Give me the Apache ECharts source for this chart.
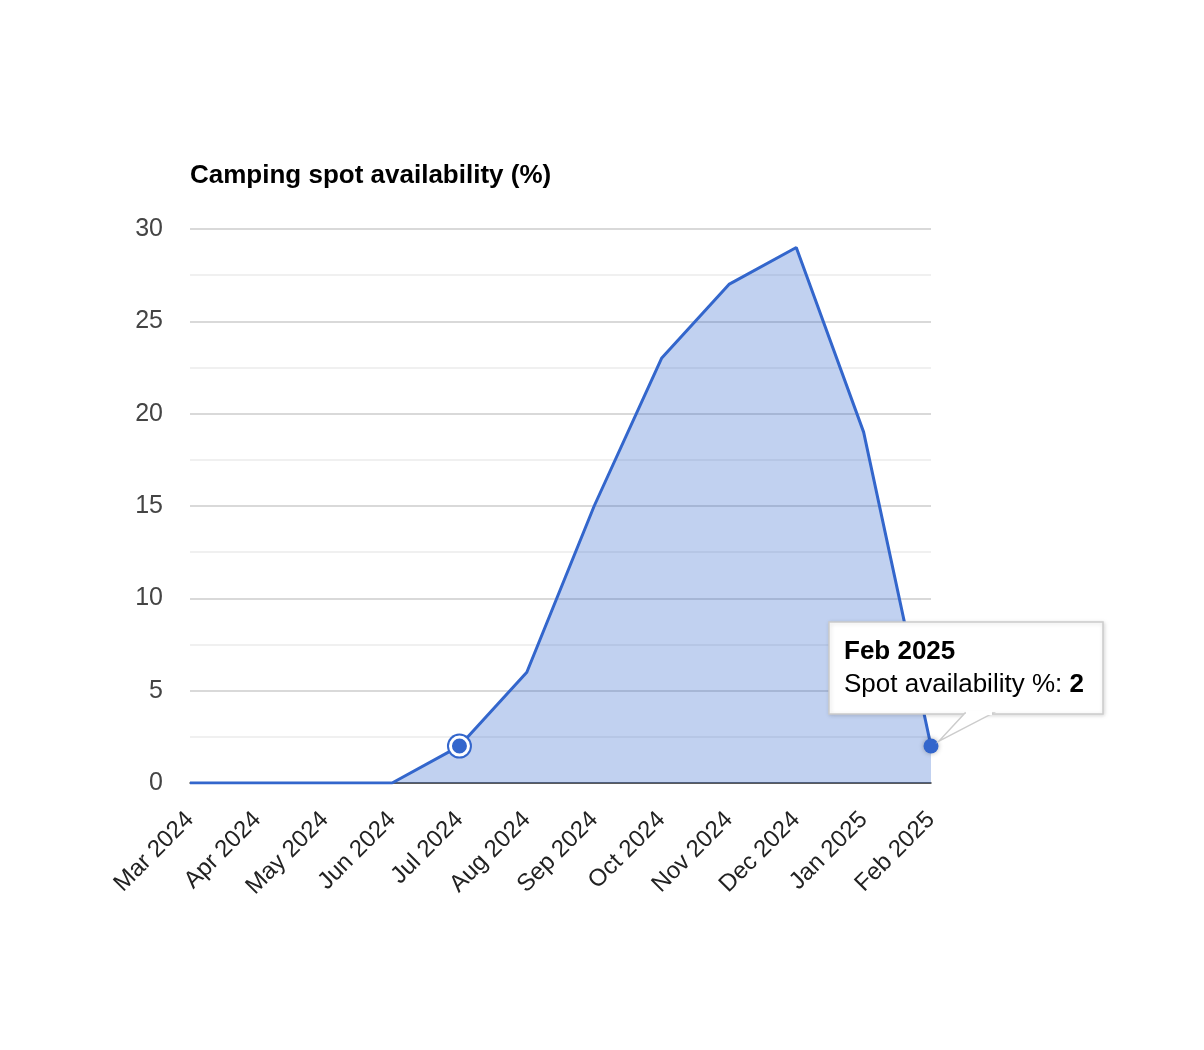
<!DOCTYPE html>
<html><head><meta charset="utf-8">
<script src="https://cdn.jsdelivr.net/npm/echarts@6/dist/echarts.min.js"></script>
<style>html,body{margin:0;padding:0;background:#fff}#c{width:1204px;height:1050px}</style>
</head><body><div id="c"></div>
<script>
const categories = ['Mar 2024','Apr 2024','May 2024','Jun 2024','Jul 2024','Aug 2024','Sep 2024','Oct 2024','Nov 2024','Dec 2024','Jan 2025','Feb 2025'];
const values = [0,0,0,0,2,6,15,23,27,29,19,2];
const yTicks = [0,5,10,15,20,25,30];
const seriesName = 'Spot availability %';
const chartTitle = 'Camping spot availability (%)';
const highlightIndex = 4;
const tooltipIndex = 11;

const FONT = '"Liberation Sans", Arial, sans-serif';
const BLUE = '#3366cc';
const chart = echarts.init(document.getElementById('c'), null, {renderer:'canvas'});

const hlData = values.map((v,i)=> i===highlightIndex ? v : null);
const ttData = values.map((v,i)=> i===tooltipIndex ? v : null);

chart.setOption({
  animation:false,
  title:{text:chartTitle,left:190,top:163,padding:0,textStyle:{fontFamily:FONT,fontSize:26,fontWeight:'bold',color:'#000'}},
  grid:{left:190,right:273,top:229,bottom:267,containLabel:false},
  xAxis:{type:'category',data:categories,boundaryGap:false,
    axisLine:{show:true,lineStyle:{color:'#333',width:1.5}},axisTick:{show:false},
    axisLabel:{rotate:45,interval:0,margin:33,fontFamily:FONT,fontSize:24,color:'#222'},
    splitLine:{show:false}},
  yAxis:{type:'value',min:yTicks[0],max:yTicks[yTicks.length-1],interval:5,
    axisLine:{show:false},axisTick:{show:false},
    axisLabel:{margin:27,fontFamily:FONT,fontSize:25,color:'#444'},
    splitLine:{lineStyle:{color:'#ccc',width:1.5}},
    minorTick:{show:false,splitNumber:2},
    minorSplitLine:{show:true,lineStyle:{color:'#ebebeb',width:1.5}}},
  series:[
    {type:'line',name:seriesName,data:values,symbol:'none',
     lineStyle:{color:BLUE,width:3},areaStyle:{color:'rgba(51,102,204,0.3)',opacity:1},z:2},
    {type:'scatter',data:hlData,symbol:'circle',symbolSize:25,itemStyle:{color:BLUE,opacity:1},z:3},
    {type:'scatter',data:hlData,symbol:'circle',symbolSize:18,itemStyle:{color:BLUE,opacity:1,borderColor:'#fff',borderWidth:3},z:4},
    {type:'scatter',data:ttData,symbol:'circle',symbolSize:15,
     itemStyle:{color:BLUE,opacity:1,shadowColor:'rgba(0,0,0,0.3)',shadowBlur:5},z:4}
  ]
});

// Static tooltip anchored to the Feb 2025 data point via the chart's scales
const p = chart.convertToPixel({seriesIndex:0},[tooltipIndex, values[tooltipIndex]]);
const bx = p[0]-102, by = p[1]-124, bw = 274, bh = 92;
chart.setOption({graphic:[
  {type:'rect',shape:{x:bx,y:by,width:bw,height:bh},
   style:{fill:'#fff',stroke:'#ccc',lineWidth:1.5,shadowColor:'rgba(0,0,0,0.15)',shadowBlur:4,shadowOffsetX:1,shadowOffsetY:1},z:100},
  {type:'polygon',shape:{points:[[p[0]+34,by+bh-1],[p[0]+62,by+bh-1],[p[0]+8,p[1]-5]]},
   style:{fill:'#fff',stroke:'#ccc',lineWidth:1.5},z:101},
  {type:'rect',shape:{x:p[0]+35,y:by+bh-3,width:26,height:4},style:{fill:'#fff'},z:102},
  {type:'text',x:bx+15,y:by+17,style:{text:categories[tooltipIndex],font:'bold 26px '+FONT,fill:'#000'},z:103},
  {type:'text',x:bx+15,y:by+50,style:{text:'{n|'+seriesName+': }{v|'+values[tooltipIndex]+'}',
     rich:{n:{font:'26px '+FONT,fill:'#000'},v:{font:'bold 26px '+FONT,fill:'#000'}}},z:103}
]});
</script></body></html>
